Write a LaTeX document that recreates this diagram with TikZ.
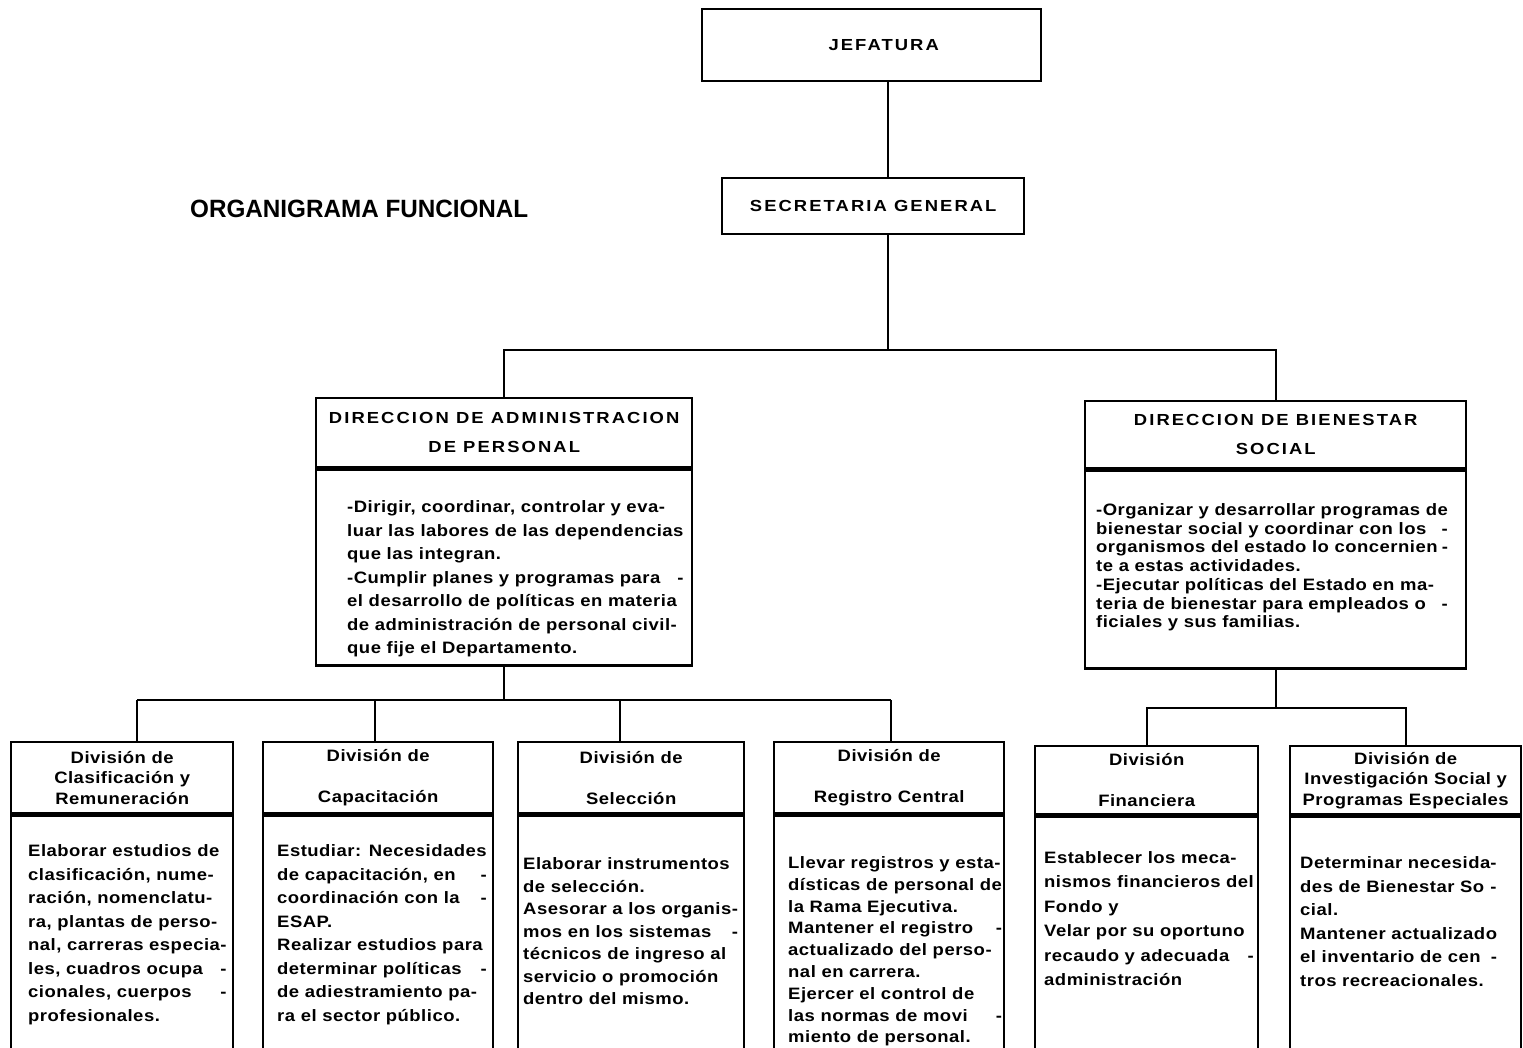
\documentclass[tikz,border=0pt]{standalone}
\usepackage{fontspec}
\setmainfont{Liberation Sans}
\newfontfamily\capfam{Liberation Sans}[FakeStretch=1.15, LetterSpace=13]
\newfontfamily\txtfam{Liberation Sans}[FakeStretch=1.12, LetterSpace=3]
\usetikzlibrary{positioning}

\newcommand\capfnt{\capfam\bfseries\fontsize{16}{29}\selectfont}
\newcommand\txtfnt[1][23.5]{\txtfam\bfseries\fontsize{16.5}{#1}\selectfont}
\newcommand\divfnt{\txtfam\bfseries\fontsize{16.5}{20.5}\selectfont}
\newcommand\titfnt{\fontsize{25}{30}\selectfont\bfseries}

\tikzset{
  box/.style={draw, line width=2.4pt, inner sep=0pt},
  capbox/.style={box, font=\capfnt, align=center, anchor=north west},
  divhdr/.style={box, font=\divfnt, align=center, anchor=north west},
  txt/.style={inner sep=0pt, align=left, anchor=north west},
  conn/.style={line width=2.4pt}
}

\begin{document}
\begin{tikzpicture}[x=1pt, y=-1pt]
            \path[use as bounding box, fill=white] (0,0) rectangle (1523,1047);

            % Title
            \node[inner sep=0pt, anchor=west, font=\titfnt] (title) at (190,209) {\scalebox{0.97}[1]{ORGANIGRAMA FUNCIONAL}};

            % Top boxes
            \node[capbox, minimum width=339, minimum height=72] (jef) at (701,8) {\hspace*{24pt}JEFATURA};
            \node[capbox, minimum width=302, minimum height=56] (sec) at (721,177) {SECRETARIA GENERAL};

            % Direcciones: header and frame
            \node[capbox, minimum width=376, minimum height=69] (dadm) at (315,397) {DIRECCION DE ADMINISTRACION\\DE PERSONAL};
            \node[box, minimum width=376, minimum height=196, below=0pt of dadm] (dadmb) {};
            \node[capbox, minimum width=381, minimum height=67, font={\capfnt\linespread{0.97}}] (dbie) at (1084,400) {DIRECCION DE BIENESTAR\\SOCIAL};
            \node[box, minimum width=381, minimum height=198, below=0pt of dbie] (dbieb) {};

            \node[txt, font=\txtfnt] (dadmt) at ([xshift=32pt, yshift=-32pt]dadmb.north west) {-Dirigir, coordinar, controlar y eva-\\
luar las labores de las dependencias\\
que las integran.\\
-Cumplir planes y programas para\hfill -\\
el desarrollo de políticas en materia\\
de administración de personal civil-\\
que fije el Departamento.};
            \node[txt, font={\txtfnt[18.7]}] (dbiet) at ([xshift=12pt, yshift=-34pt]dbieb.north west) {-Organizar y desarrollar programas de\\
bienestar social y coordinar con los\hfill -\\
organismos del estado lo concernien\hfill -\\
te a estas actividades.\\
-Ejecutar políticas del Estado en ma-\\
teria de bienestar para empleados o\hfill -\\
ficiales y sus familias.};

            % Divisiones: header and frame
            \foreach \i/\x/\y/\w/\h/\lbl in {
              1/10/741/222/71/{División de\\Clasificación y\\Remuneración},
              2/262/741/230/71/{División de\\[20.5pt]Capacitación},
              3/517/741/226/71/{División de\\[20.5pt]Selección},
              4/773/741/230/71/{División de\\[20.5pt]Registro Central},
              5/1034/745/223/68/{División\\[20.5pt]Financiera},
              6/1289/745/231/68/{División de\\Investigación Social y\\Programas Especiales}} {
                \node[divhdr, minimum width=\w, minimum height=\h] (d\i) at (\x,\y) {\lbl};
                \node[box, minimum width=\w, minimum height=300, below=0pt of d\i] (b\i) {};
            }

            \node[txt, font=\txtfnt] (d1t) at ([xshift=18pt, yshift=-30pt]b1.north west) {Elaborar estudios de\\
clasificación, nume-\\
ración, nomenclatu-\\
ra, plantas de perso-\\
nal, carreras especia-\\
les, cuadros ocupa\hfill -\\
cionales, cuerpos\hfill -\\
profesionales.};
            \node[txt, font=\txtfnt] (d2t) at ([xshift=15pt, yshift=-30pt]b2.north west) {Estudiar: Necesidades\\
de capacitación, en\hfill -\\
coordinación con la\hfill -\\
ESAP.\\
Realizar estudios para\\
determinar políticas\hfill -\\
de adiestramiento pa-\\
ra el sector público.};
            \node[txt, font={\txtfnt[22.5]}] (d3t) at ([xshift=6pt, yshift=-43pt]b3.north west) {Elaborar instrumentos\\
de selección.\\
Asesorar a los organis-\\
mos en los sistemas\hfill -\\
técnicos de ingreso al\\
servicio o promoción\\
dentro del mismo.};
            \node[txt, font={\txtfnt[21.8]}] (d4t) at ([xshift=15pt, yshift=-42pt]b4.north west) {Llevar registros y esta-\\
dísticas de personal de\\
la Rama Ejecutiva.\\
Mantener el registro\hfill -\\
actualizado del perso-\\
nal en carrera.\\
Ejercer el control de\\
las normas de movi\hfill -\\
miento de personal.};
            \node[txt, font={\txtfnt[24.4]}] (d5t) at ([xshift=10pt, yshift=-36pt]b5.north west) {Establecer los meca-\\
nismos financieros del\\
Fondo y\\
Velar por su oportuno\\
recaudo y adecuada\hfill -\\
administración};
            \node[txt, font={\txtfnt[23.6]}] (d6t) at ([xshift=11pt, yshift=-41pt]b6.north west) {Determinar necesida\hfill -\\
des de Bienestar So\hfill -\\
cial.\\
Mantener actualizado\\
el inventario de cen\hfill -\\
tros recreacionales.};

            % Connectors
            \coordinate (m) at (888,350);
            \draw[conn] (jef.south -| m) -- (sec.north -| m);
            \draw[conn] (sec.south -| m) -- (m);
            \draw[conn] (dadm.north) |- (m) -| (dbie.north);

            \foreach \i/\x in {1/137, 2/375, 3/620, 4/891} {
                \coordinate (t\i) at (\x,700);
                \draw[conn] (t\i) -- (t\i |- d\i.north);
            }
            \draw[conn] (t1) -- (t4);
            \draw[conn] (dadmb.south) -- (dadmb.south |- t1);

            \path (dbieb.south) ++(0,38) coordinate (u);
            \draw[conn] (dbieb.south) -- (u);
            \draw[conn] (d5.north) |- (u) -| (d6.north);
\end{tikzpicture}
\end{document}
